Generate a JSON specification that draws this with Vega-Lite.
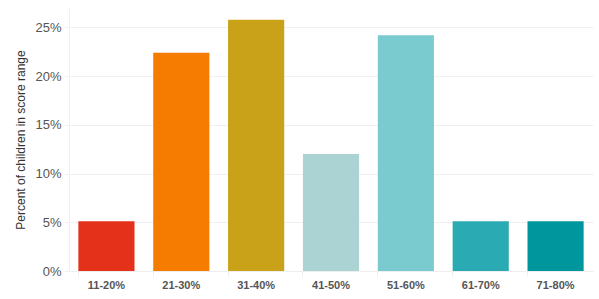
{
  "$schema": "https://vega.github.io/schema/vega-lite/v6.json",
  "width": 524,
  "height": 263,
  "autosize": {"type": "none"},
  "padding": {"left": 69, "top": 8, "right": 6, "bottom": 28},
  "background": "white",
  "config": {"view": {"stroke": null}, "font": "Liberation Sans"},
  "data": {
    "values": [
      {"range": "11-20%", "percent": 5.1, "color": "#E3311A"},
      {"range": "21-30%", "percent": 22.4, "color": "#F57C00"},
      {"range": "31-40%", "percent": 25.8, "color": "#C9A21A"},
      {"range": "41-50%", "percent": 12.0, "color": "#ABD3D3"},
      {"range": "51-60%", "percent": 24.2, "color": "#7ACBCF"},
      {"range": "61-70%", "percent": 5.1, "color": "#2AABB4"},
      {"range": "71-80%", "percent": 5.1, "color": "#00969E"}
    ]
  },
  "mark": {"type": "bar"},
  "encoding": {
    "x": {
      "field": "range",
      "type": "ordinal",
      "sort": null,
      "scale": {"paddingInner": 0.25, "paddingOuter": 0.125},
      "axis": {
        "title": null,
        "labelAngle": 0,
        "labelFontSize": 11,
        "labelFontWeight": "bold",
        "labelColor": "#555",
        "tickColor": "#eeeeee",
        "tickSize": 5,
        "domainColor": "#eeeeee",
        "bandPosition": 0,
        "labelPadding": 3
      }
    },
    "y": {
      "field": "percent",
      "type": "quantitative",
      "scale": {"domain": [0, 27], "nice": false},
      "axis": {
        "title": "Percent of children in score range",
        "titleFontSize": 12,
        "titleFontWeight": "normal",
        "titleColor": "#333",
        "titlePadding": 7,
        "values": [0, 5, 10, 15, 20, 25],
        "labelExpr": "datum.value + '%'",
        "labelFontSize": 13,
        "labelColor": "#555",
        "gridColor": "#f0f0f0",
        "domainColor": "#f0f0f0",
        "tickColor": "#f0f0f0",
        "tickSize": 5,
        "labelPadding": 3
      }
    },
    "color": {"field": "color", "type": "nominal", "scale": null, "legend": null}
  }
}
